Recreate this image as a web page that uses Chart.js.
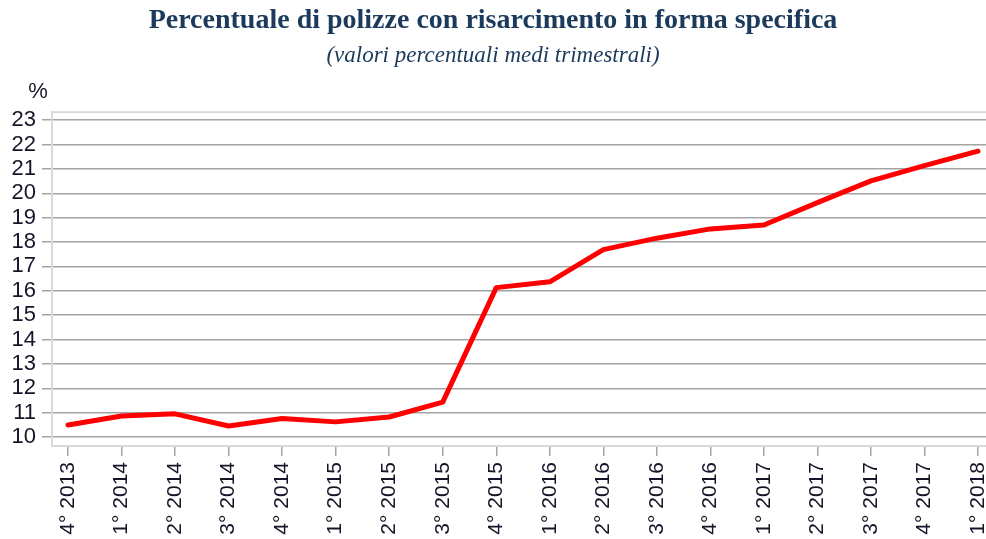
<!DOCTYPE html>
<html lang="it">
<head>
<meta charset="utf-8">
<title>Percentuale di polizze con risarcimento in forma specifica</title>
<script src="https://cdn.jsdelivr.net/npm/chart.js@4.4.1/dist/chart.umd.min.js"></script>
<style>
  html, body { margin: 0; padding: 0; background: #ffffff; }
  #wrap { width: 986px; height: 539px; }
</style>
</head>
<body>
<div id="wrap"><canvas id="lineChart" width="986" height="539"></canvas></div>
<script>
// trimestri e valori percentuali medi
const quarters = ['4° 2013', '1° 2014', '2° 2014', '3° 2014', '4° 2014', '1° 2015', '2° 2015', '3° 2015', '4° 2015',
    '1° 2016', '2° 2016', '3° 2016', '4° 2016', '1° 2017', '2° 2017', '3° 2017', '4° 2017', '1° 2018'];
const percentValues = [10.49, 10.86, 10.95, 10.45, 10.76, 10.62, 10.82, 11.43, 16.13,
    16.37, 17.69, 18.16, 18.54, 18.70, 19.62, 20.51, 21.14, 21.73];
const yTicks = [10, 11, 12, 13, 14, 15, 16, 17, 18, 19, 20, 21, 22, 23];

const titleText = 'Percentuale di polizze con risarcimento in forma specifica';
const subtitleText = '(valori percentuali medi trimestrali)';
const unitLabel = '%';

const navy = '#1b3a5c';
const tickColor = '#15152a';
const gridColor = '#a3a3a3';
const frameColor = '#d9d9d9';

// cornice superiore dell'area del grafico e simbolo dell'unità
const framePlugin = {
    id: 'frame',
    beforeDatasetsDraw(chart) {
        const { ctx, chartArea } = chart;
        ctx.save();
        ctx.strokeStyle = frameColor;
        ctx.lineWidth = 2;
        ctx.beginPath();
        ctx.moveTo(chartArea.left, chartArea.top);
        ctx.lineTo(chartArea.right, chartArea.top);
        ctx.stroke();
        ctx.restore();
    },
    afterDraw(chart) {
        const { ctx } = chart;
        ctx.save();
        ctx.fillStyle = tickColor;
        ctx.font = '22px "Liberation Sans", Arial, sans-serif';
        ctx.textAlign = 'center';
        ctx.textBaseline = 'middle';
        ctx.fillText(unitLabel, 38, 92);
        ctx.restore();
    }
};

const ctx = document.getElementById('lineChart').getContext('2d');
const chart = new Chart(ctx, {
    type: 'line',
    data: {
        datasets: [{
            label: 'Polizze con risarcimento in forma specifica',
            data: percentValues.map((v, i) => ({ x: i, y: v })),
            borderColor: '#ff0000',
            backgroundColor: '#ff0000',
            borderWidth: 5,
            pointRadius: 0,
            tension: 0,
            borderJoinStyle: 'round',
            borderCapStyle: 'round'
        }]
    },
    options: {
        responsive: false,
        animation: false,
        layout: { padding: 0 },
        plugins: {
            legend: { display: false },
            tooltip: { enabled: false },
            title: {
                display: true,
                text: titleText,
                color: navy,
                font: { family: '"Liberation Serif", "Times New Roman", serif', size: 28, weight: 'bold' },
                padding: { top: 4, bottom: 5 }
            },
            subtitle: {
                display: true,
                text: subtitleText,
                color: navy,
                font: { family: '"Liberation Serif", "Times New Roman", serif', size: 23, style: 'italic' },
                padding: { top: 0, bottom: 42 }
            }
        },
        scales: {
            x: {
                type: 'linear',
                min: -0.3,
                max: 17.15,
                afterBuildTicks(scale) {
                    scale.ticks = quarters.map((q, i) => ({ value: i }));
                },
                afterFit(scale) {
                    scale.height = 93;
                    scale.paddingLeft = 0;
                    scale.paddingRight = 0;
                },
                grid: {
                    drawOnChartArea: false,
                    drawTicks: true,
                    tickLength: 10,
                    color: gridColor,
                    lineWidth: 1.5
                },
                border: { display: true, color: frameColor, width: 2 },
                ticks: {
                    autoSkip: false,
                    maxRotation: 90,
                    minRotation: 90,
                    padding: 6,
                    color: tickColor,
                    font: { family: '"Liberation Sans", Arial, sans-serif', size: 21 },
                    callback: (value) => quarters[value]
                }
            },
            y: {
                min: 9.63,
                max: 23.33,
                afterBuildTicks(scale) {
                    scale.ticks = yTicks.map(v => ({ value: v }));
                },
                afterFit(scale) {
                    scale.width = 52;
                    scale.paddingTop = 0;
                    scale.paddingBottom = 0;
                },
                grid: {
                    drawTicks: true,
                    tickLength: 10,
                    color: gridColor,
                    lineWidth: 1.5
                },
                border: { display: true, color: frameColor, width: 2 },
                ticks: {
                    autoSkip: false,
                    padding: 6,
                    color: tickColor,
                    font: { family: '"Liberation Sans", Arial, sans-serif', size: 22 }
                }
            }
        }
    },
    plugins: [framePlugin]
});
</script>
</body>
</html>
